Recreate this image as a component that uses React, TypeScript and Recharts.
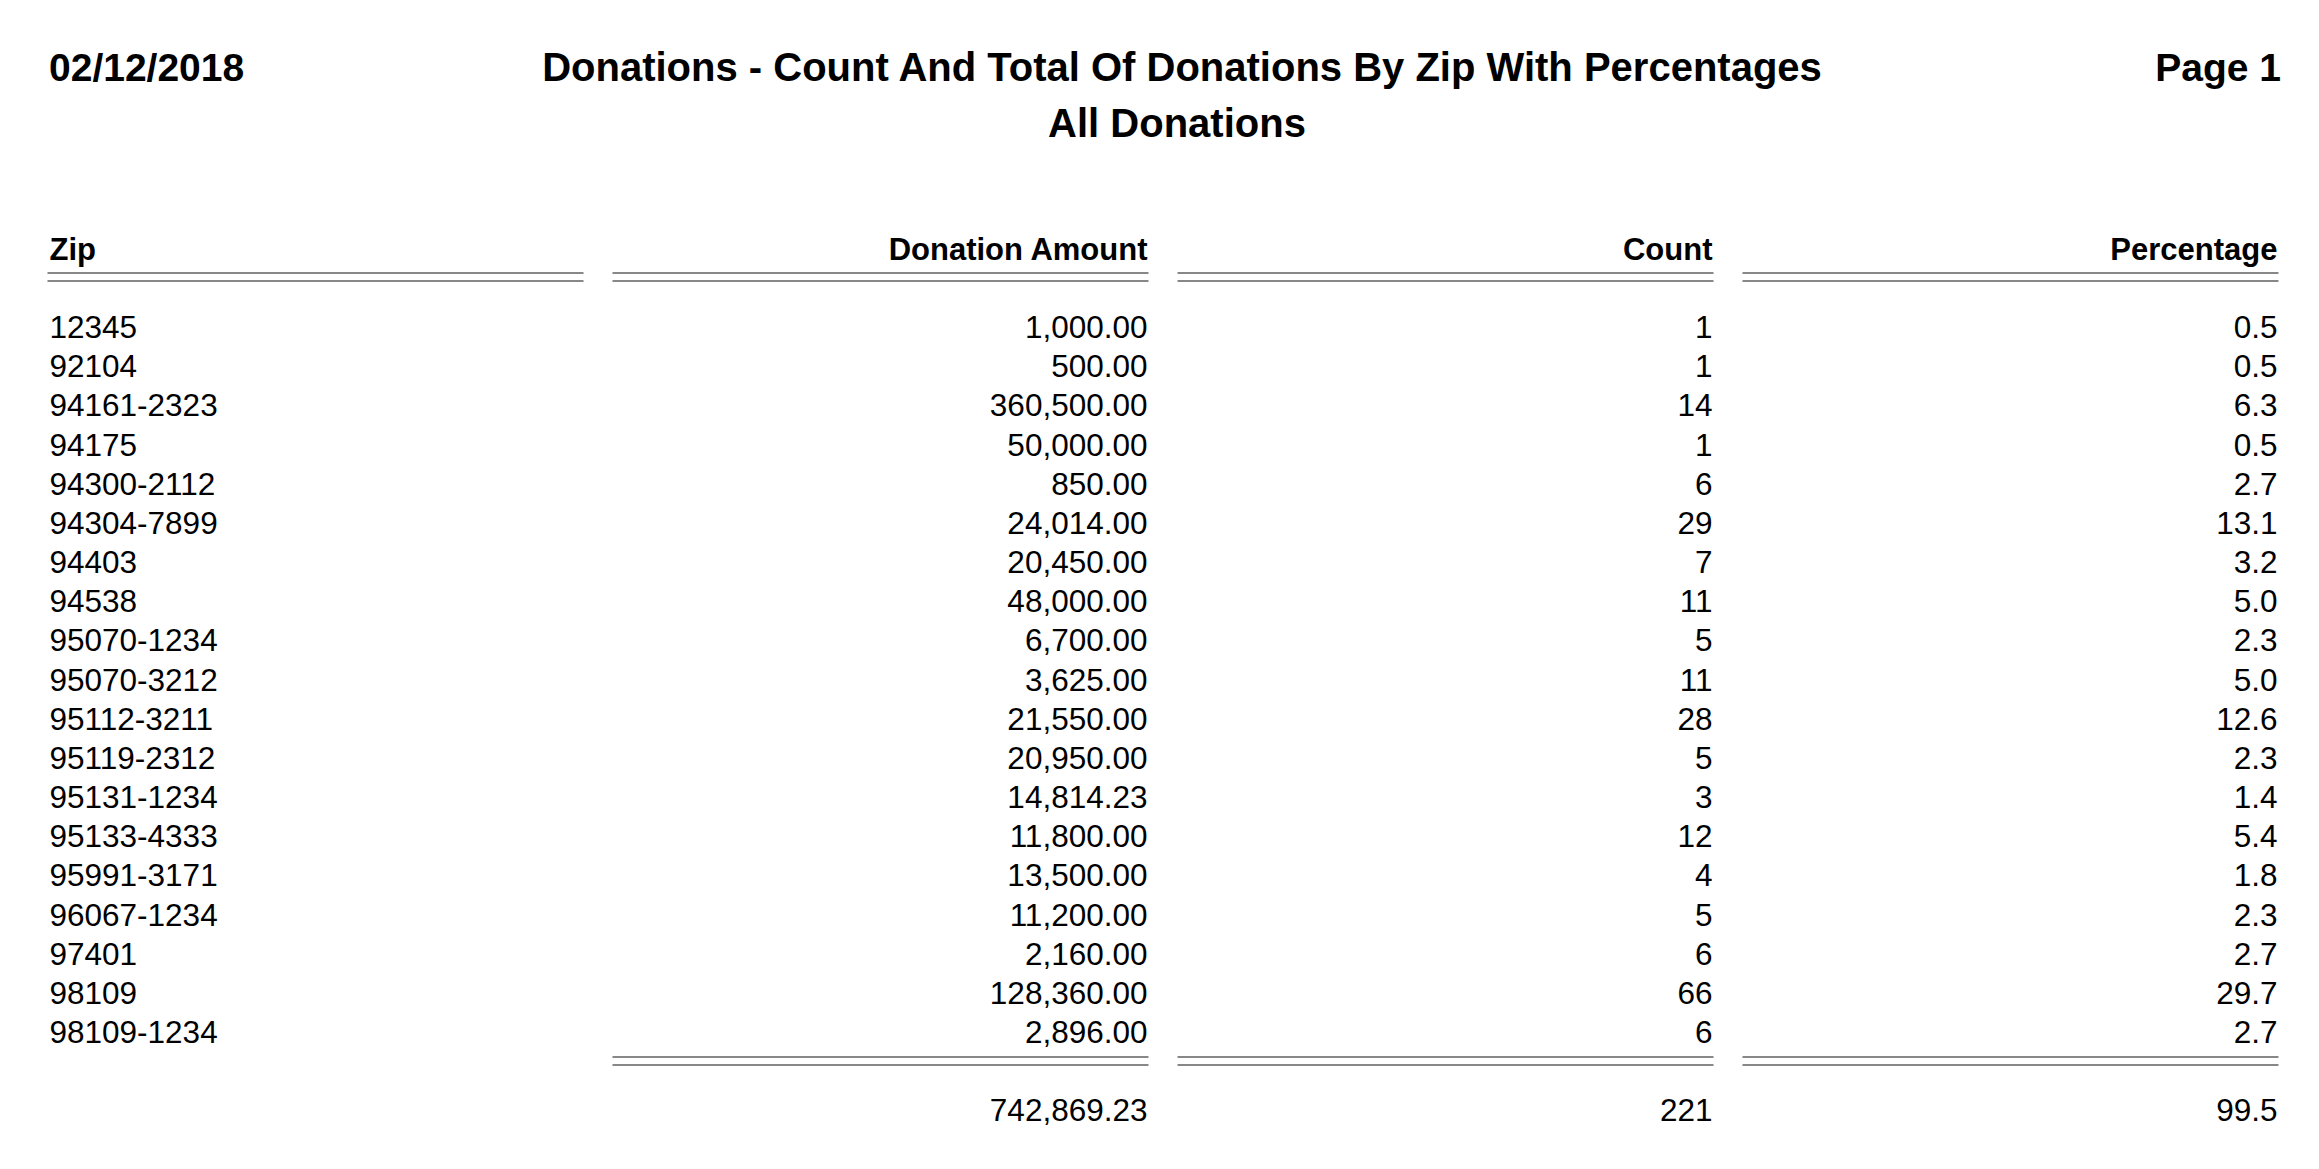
import React from "react";
import { ScatterChart, Scatter, XAxis, YAxis } from "recharts";

const columns = ["Zip", "Donation Amount", "Count", "Percentage"];

const zips = [
  "12345", "92104", "94161-2323", "94175", "94300-2112", "94304-7899", "94403",
  "94538", "95070-1234", "95070-3212", "95112-3211", "95119-2312", "95131-1234",
  "95133-4333", "95991-3171", "96067-1234", "97401", "98109", "98109-1234",
]
const amounts = [
  1000, 500, 360500, 50000, 850, 24014, 20450, 48000, 6700, 3625, 21550, 20950,
  14814.23, 11800, 13500, 11200, 2160, 128360, 2896,
]
const counts = [1, 1, 14, 1, 6, 29, 7, 11, 5, 11, 28, 5, 3, 12, 4, 5, 6, 66, 6]
const percentages = [
  0.5, 0.5, 6.3, 0.5, 2.7, 13.1, 3.2, 5.0, 2.3, 5.0, 12.6, 2.3, 1.4, 5.4, 1.8, 2.3, 2.7, 29.7, 2.7,
]
const totals = [742869.23, 221, 99.5]

const RULE_ROW = "__rule"
const TOTAL_ROW = "__total"

const money = (v: number) => v.toLocaleString("en-US", { minimumFractionDigits: 2, maximumFractionDigits: 2 })
const pct = (v: number) => v.toFixed(1)

const zipCells = zips.map((z) => ({ col: columns[0], row: z, text: z }))
const amountCells = [
  ...zips.map((z, i) => ({ col: columns[1], row: z, text: money(amounts[i]) })),
  { col: columns[1], row: RULE_ROW, text: "" },
  { col: columns[1], row: TOTAL_ROW, text: money(totals[0]) },
]
const countCells = [
  ...zips.map((z, i) => ({ col: columns[2], row: z, text: String(counts[i]) })),
  { col: columns[2], row: RULE_ROW, text: "" },
  { col: columns[2], row: TOTAL_ROW, text: String(totals[1]) },
]
const pctCells = [
  ...zips.map((z, i) => ({ col: columns[3], row: z, text: pct(percentages[i]) })),
  { col: columns[3], row: RULE_ROW, text: "" },
  { col: columns[3], row: TOTAL_ROW, text: pct(totals[2]) },
]

const FONT = "'Liberation Sans', Arial, Helvetica, sans-serif"
const RULE = "#888888"
const HALF = 268

function DoubleRule({ cx, y }: { cx: number; y: number }) {
  return (
    <g>
      <rect x={cx - HALF} y={y} width={HALF * 2} height={2} fill={RULE} />
      <rect x={cx - HALF} y={y + 8} width={HALF * 2} height={2} fill={RULE} />
    </g>
  )
}

function HeaderTick(props: any) {
  const { x, y, payload } = props
  const first = payload.value === columns[0]
  return (
    <g>
      <text
        x={first ? x - HALF + 2 : x + HALF - 1}
        y={y - 47}
        textAnchor={first ? "start" : "end"}
        fontFamily={FONT}
        fontWeight="bold"
        fontSize={31}
        fill="#000"
      >
        {payload.value}
      </text>
      <DoubleRule cx={x} y={Math.round(y - 35)} />
    </g>
  )
}

function CellShape(props: any) {
  const { cx, cy, payload } = props
  if (payload.row === RULE_ROW) return <DoubleRule cx={cx} y={Math.round(cy - 15)} />
  const first = payload.col === columns[0]
  return (
    <text
      x={first ? cx - HALF + 2 : cx + HALF - 1}
      y={cy + 11}
      textAnchor={first ? "start" : "end"}
      fontFamily={FONT}
      fontSize={31.5}
      fill="#000"
    >
      {payload.text}
    </text>
  )
}

const headStyle: React.CSSProperties = {
  position: "absolute",
  fontFamily: FONT,
  fontWeight: "bold",
  fontSize: 39,
  lineHeight: 1,
  color: "#000",
  whiteSpace: "nowrap",
}

export default function App() {
  return (
    <div style={{ position: "relative", width: 2319, height: 1169, background: "#fff" }}>
      <style>{"body{margin:0}"}</style>
      <div style={{ ...headStyle, left: 49, top: 48 }}>02/12/2018</div>
      <div style={{ ...headStyle, fontSize: 40, left: 182, width: 2000, top: 47, textAlign: "center" }}>
        Donations - Count And Total Of Donations By Zip With Percentages
      </div>
      <div style={{ ...headStyle, fontSize: 40, left: 177, width: 2000, top: 103, textAlign: "center" }}>
        All Donations
      </div>
      <div style={{ ...headStyle, right: 38, top: 48 }}>Page 1</div>
      <div style={{ position: "absolute", left: 0, top: 0 }}>
        <ScatterChart width={2319} height={1169} margin={{ top: 247.4, right: 26, bottom: 39, left: 33 }}>
          <XAxis
            type="category"
            dataKey="col"
            orientation="top"
            height={60}
            axisLine={false}
            tickLine={false}
            tickSize={0}
            tickMargin={0}
            interval={0}
            allowDuplicatedCategory={false}
            tick={HeaderTick}
          />
          <YAxis type="category" dataKey="row" hide reversed allowDuplicatedCategory={false} />
          <Scatter data={zipCells} shape={CellShape} isAnimationActive={false} />
          <Scatter data={amountCells} shape={CellShape} isAnimationActive={false} />
          <Scatter data={countCells} shape={CellShape} isAnimationActive={false} />
          <Scatter data={pctCells} shape={CellShape} isAnimationActive={false} />
        </ScatterChart>
      </div>
    </div>
  )
}
